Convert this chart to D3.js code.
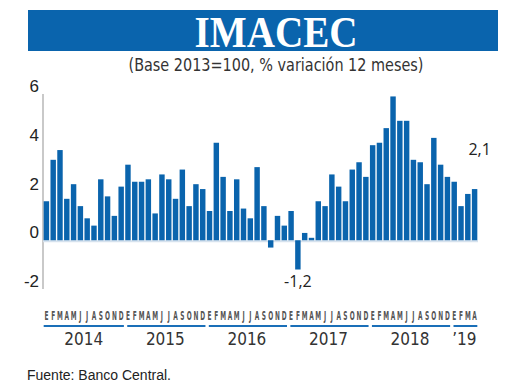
<!DOCTYPE html>
<html>
<head>
<meta charset="utf-8">
<script src="https://cdn.jsdelivr.net/npm/d3@7"></script>
<style>
  html, body { margin: 0; padding: 0; background: #fff; }
  svg { display: block; }
</style>
</head>
<body>
<svg id="chart" width="520" height="390"></svg>
<script>
const years = ['2014', '2015', '2016', '2017', '2018', '\u201919'];
const monthLetters = ['E', 'F', 'M', 'A', 'M', 'J', 'J', 'A', 'S', 'O', 'N', 'D'];
const values2014 = [1.6, 3.3, 3.7, 1.7, 2.3, 1.4, 0.9, 0.6, 2.5, 1.8, 1.0, 2.2];
const values2015 = [3.1, 2.4, 2.4, 2.5, 1.1, 2.7, 2.5, 1.7, 2.9, 1.4, 2.3, 2.1];
const values2016 = [1.2, 4.0, 2.6, 1.2, 2.5, 1.3, 0.9, 3.0, 1.4, -0.3, 1.0, 0.6];
const values2017 = [1.2, -1.2, 0.3, 0.1, 1.6, 1.4, 2.7, 2.2, 1.6, 2.9, 3.2, 2.6];
const values2018 = [3.9, 4.0, 4.6, 5.9, 4.9, 4.9, 3.3, 3.2, 2.3, 4.2, 3.1, 2.6];
const values2019 = [2.4, 1.4, 1.9, 2.1];
const yTicks = [-2, 0, 2, 4, 6];
const annotations = [
  { year: 3, month: 1, label: '-1,2' },
  { year: 5, month: 3, label: '2,1' }
];

const series = [values2014, values2015, values2016, values2017, values2018, values2019];
const data = [];
series.forEach((vals, yi) => {
  vals.forEach((v, mi) => {
    data.push({ key: `${yi}-${mi}`, year: yi, month: mi, value: v });
  });
});

const blue = '#0a64ad';
const svg = d3.select('#chart');

// banner
svg.append('rect')
  .attr('x', 28).attr('y', 10)
  .attr('width', 470).attr('height', 41)
  .attr('fill', blue);

svg.append('text')
  .attr('x', 276).attr('y', 47)
  .attr('text-anchor', 'middle')
  .attr('font-family', '"Liberation Serif", "DejaVu Serif", serif')
  .attr('font-weight', 'bold')
  .attr('font-size', 45)
  .attr('textLength', 163)
  .attr('lengthAdjust', 'spacingAndGlyphs')
  .attr('fill', '#fff')
  .text('IMACEC');

svg.append('text')
  .attr('x', 276).attr('y', 71)
  .attr('text-anchor', 'middle')
  .attr('font-family', '"Liberation Sans Narrow", "DejaVu Sans Condensed", sans-serif')
  .attr('font-size', 17)
  .attr('textLength', 295)
  .attr('lengthAdjust', 'spacingAndGlyphs')
  .attr('fill', '#333')
  .text('(Base 2013=100, % variación 12 meses)');

const x = d3.scaleBand()
  .domain(data.map((d) => d.key))
  .range([43, 478])
  .paddingInner(0.2)
  .paddingOuter(0.1);

const y = d3.scaleLinear()
  .domain([-2, 6])
  .range([289, 94]);

svg.append('line')
  .attr('x1', 43).attr('x2', 43)
  .attr('y1', y(6)).attr('y2', y(-2))
  .attr('stroke', '#c9c9c9')
  .attr('stroke-width', 2);

svg.append('g')
  .selectAll('text')
  .data(yTicks)
  .join('text')
  .attr('x', 39)
  .attr('y', (d) => y(d) - 2)
  .attr('text-anchor', 'end')
  .attr('font-family', '"Liberation Sans", Arial, sans-serif')
  .attr('font-size', 17)
  .attr('fill', '#222')
  .text((d) => d);

// light line under the bars
svg.append('line')
  .attr('x1', 43).attr('x2', 478)
  .attr('y1', y(0) + 1).attr('y2', y(0) + 1)
  .attr('stroke', '#d6e2ee')
  .attr('stroke-width', 2);

svg.append('g')
  .selectAll('rect')
  .data(data)
  .join('rect')
  .attr('x', (d) => x(d.key))
  .attr('width', x.bandwidth())
  .attr('y', (d) => y(Math.max(0, d.value)))
  .attr('height', (d) => Math.abs(y(d.value) - y(0)))
  .attr('fill', blue);

svg.append('g')
  .selectAll('text')
  .data(annotations)
  .join('text')
  .attr('x', (d) => {
    const cx = x(`${d.year}-${d.month}`) + x.bandwidth() / 2;
    return series[d.year][d.month] < 0 ? cx : cx + 5;
  })
  .attr('y', (d) => {
    const v = series[d.year][d.month];
    return v < 0 ? y(v) + 17 : y(v) - 34;
  })
  .attr('text-anchor', 'middle')
  .attr('font-family', '"Open Sans", "Liberation Sans", sans-serif')
  .attr('font-size', 16)
  .attr('fill', '#222')
  .text((d) => d.label);

// month initials, one per bar, squeezed like the condensed face of the original
const squeeze = 0.5;
svg.append('g')
  .attr('transform', `scale(${squeeze},1)`)
  .selectAll('text')
  .data(data)
  .join('text')
  .attr('x', (d) => (x(d.key) + x.bandwidth() / 2) / squeeze)
  .attr('y', 320)
  .attr('text-anchor', 'middle')
  .attr('font-family', '"Liberation Sans Narrow", "DejaVu Sans Condensed", sans-serif')
  .attr('font-weight', 'bold')
  .attr('font-size', 13)
  .attr('fill', '#555')
  .text((d) => monthLetters[d.month]);

const yearSpans = years.map((label, yi) => {
  const n = series[yi].length;
  const first = x(`${yi}-0`);
  const last = x(`${yi}-${n - 1}`) + x.bandwidth();
  return { label, x0: first, x1: last };
});

svg.append('g')
  .selectAll('line')
  .data(yearSpans)
  .join('line')
  .attr('x1', (d, i) => d.x0 + (i === 0 ? 0 : 2))
  .attr('x2', (d) => d.x1)
  .attr('y1', 326).attr('y2', 326)
  .attr('stroke', '#1a6fb8')
  .attr('stroke-width', 2);

svg.append('g')
  .selectAll('text')
  .data(yearSpans)
  .join('text')
  .attr('x', (d) => (d.x0 + d.x1) / 2)
  .attr('y', 345)
  .attr('text-anchor', 'middle')
  .attr('font-family', '"Liberation Sans Narrow", "DejaVu Sans Condensed", sans-serif')
  .attr('font-size', 17)
  .attr('fill', '#333')
  .text((d) => d.label);

svg.append('text')
  .attr('x', 27).attr('y', 380)
  .attr('font-family', '"Liberation Sans", Arial, sans-serif')
  .attr('font-size', 14)
  .attr('fill', '#222')
  .text('Fuente: Banco Central.');
</script>
</body>
</html>
